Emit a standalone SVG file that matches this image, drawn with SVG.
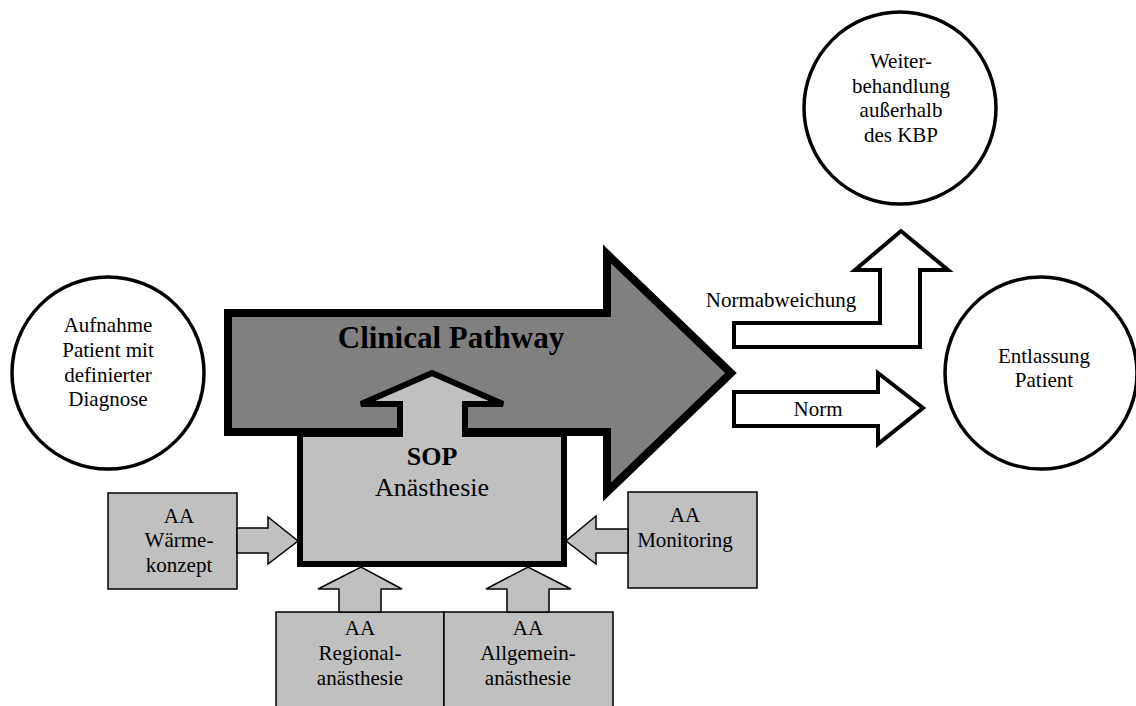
<svg xmlns="http://www.w3.org/2000/svg" width="1136" height="706" viewBox="0 0 1136 706">
<style>
text{font-family:"Liberation Serif","Times New Roman",serif;fill:#000;text-anchor:middle}
.t{font-size:21px}
.circ{fill:#fff;stroke:#000;stroke-width:3.5}
.box{fill:#c0c0c0;stroke:#000;stroke-width:1.5}
.sarr{fill:#c0c0c0;stroke:#000;stroke-width:1.5;stroke-linejoin:miter}
.warr{fill:#fff;stroke:#000;stroke-width:4;stroke-linejoin:miter}
</style>
<rect width="1136" height="706" fill="#fff"/>
<g id="aufnahme">
<circle class="circ" cx="108" cy="373" r="96"/>
<text class="t" x="108" y="332">Aufnahme</text>
<text class="t" x="108" y="357">Patient mit</text>
<text class="t" x="108" y="382">definierter</text>
<text class="t" x="108" y="406">Diagnose</text>
</g>
<g id="weiterbehandlung">
<circle class="circ" cx="900" cy="108" r="96"/>
<text class="t" x="901" y="68">Weiter-</text>
<text class="t" x="901" y="93">behandlung</text>
<text class="t" x="901" y="117">außerhalb</text>
<text class="t" x="901" y="142">des KBP</text>
</g>
<g id="entlassung">
<circle class="circ" cx="1041" cy="373" r="96"/>
<text class="t" x="1044" y="363">Entlassung</text>
<text class="t" x="1044" y="387">Patient</text>
</g>
<g id="clinical-pathway">
<polygon points="228,313 607,313 607,254 731,373 607,492 607,432 228,432" fill="#808080" stroke="#000" stroke-width="8" stroke-linejoin="miter"/>
<text x="451" y="348" style="font-size:31px;font-weight:bold">Clinical Pathway</text>
</g>
<g id="sop">
<rect x="300" y="434" width="264" height="130" fill="#c0c0c0" stroke="#000" stroke-width="6"/>
<polygon points="400,440 400,404 361,404 432,373 503,404 465,404 465,440" fill="#c0c0c0" stroke="none"/>
<path d="M400,437 L400,404 L361,404 L432,373 L503,404 L465,404 L465,437" fill="none" stroke="#000" stroke-width="6" stroke-linejoin="miter"/>
<rect x="403" y="420" width="59" height="20" fill="#c0c0c0"/>
<text x="432" y="465" style="font-size:26px;font-weight:bold">SOP</text>
<text x="432" y="496" style="font-size:26px">Anästhesie</text>
</g>
<g id="waerme">
<rect class="box" x="108" y="493" width="129" height="96"/>
<text class="t" x="179" y="523">AA</text>
<text class="t" x="179" y="547">Wärme-</text>
<text class="t" x="179" y="572">konzept</text>
</g>
<g id="monitoring">
<rect class="box" x="628" y="492" width="129" height="96"/>
<text class="t" x="685" y="522">AA</text>
<text class="t" x="685" y="547">Monitoring</text>
</g>
<g id="regional">
<rect class="box" x="276" y="612" width="168" height="100"/>
<text class="t" x="360" y="635">AA</text>
<text class="t" x="360" y="660">Regional-</text>
<text class="t" x="360" y="685">anästhesie</text>
</g>
<g id="allgemein">
<rect class="box" x="444" y="612" width="169" height="100"/>
<text class="t" x="528" y="635">AA</text>
<text class="t" x="528" y="660">Allgemein-</text>
<text class="t" x="528" y="685">anästhesie</text>
</g>
<g id="connectors">
<polygon class="sarr" points="237,528 268,528 268,517 298,541 268,564 268,553 237,553"/>
<polygon class="sarr" points="628,529 596,529 596,516 566,541 596,564 596,553 628,553"/>
<polygon class="sarr" points="339,612 339,589 318,589 361,567 402,589 381,589 381,612"/>
<polygon class="sarr" points="507,612 507,589 486,589 528,567 571,589 549,589 549,612"/>
<polygon class="warr" points="734,323 880,323 880,270 855,270 901,231 948,270 920,270 920,347 734,347"/>
<polygon class="warr" points="734,392 878,392 878,373 923,408 878,444 878,426 734,426"/>
<text class="t" x="781" y="307">Normabweichung</text>
<text class="t" x="818" y="416">Norm</text>
</g>
</svg>
